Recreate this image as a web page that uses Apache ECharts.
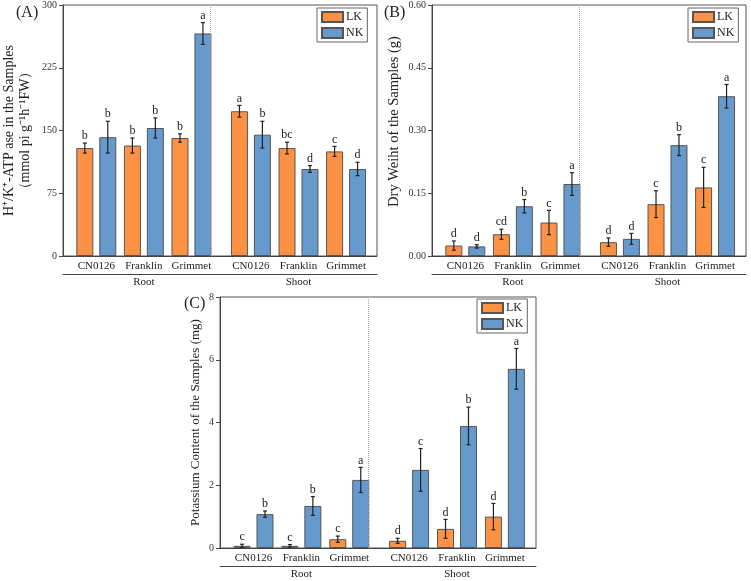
<!DOCTYPE html>
<html>
<head>
<meta charset="utf-8">
<script src="https://cdn.jsdelivr.net/npm/echarts@6/dist/echarts.min.js"></script>
<style>
  html, body { margin: 0; padding: 0; background: #fff; }
  #chart { width: 751px; height: 581px; }
</style>
</head>
<body>
<div id="chart"></div>
<script>
// ---------- data ----------
var cultivars = ['CN0126', 'Franklin', 'Grimmet', 'CN0126', 'Franklin', 'Grimmet'];
var tissues = ['Root', 'Shoot'];
var treatments = ['LK', 'NK'];

// (A) H+/K+-ATPase
var atpLK = [129, 132, 141, 173, 129, 125];
var atpLKErr = [6, 9, 5, 7, 7, 6];
var atpLKSig = ['b', 'b', 'b', 'a', 'bc', 'c'];
var atpNK = [142, 153, 266, 145, 104, 104];
var atpNKErr = [19, 12, 13, 16, 4, 8];
var atpNKSig = ['b', 'b', 'a', 'b', 'd', 'd'];
var atpTicks = [0, 75, 150, 225, 300];

// (B) dry weight
var dwLK = [0.025, 0.052, 0.080, 0.033, 0.124, 0.164];
var dwLKErr = [0.011, 0.012, 0.029, 0.010, 0.032, 0.048];
var dwLKSig = ['d', 'cd', 'c', 'd', 'c', 'c'];
var dwNK = [0.023, 0.119, 0.172, 0.041, 0.265, 0.382];
var dwNKErr = [0.004, 0.016, 0.027, 0.013, 0.025, 0.028];
var dwNKSig = ['d', 'b', 'a', 'd', 'b', 'a'];
var dwTicks = [0, 0.15, 0.30, 0.45, 0.60];

// (C) potassium content
var kLK = [0.07, 0.07, 0.28, 0.23, 0.61, 1.00];
var kLKErr = [0.05, 0.04, 0.10, 0.08, 0.30, 0.42];
var kLKSig = ['c', 'c', 'c', 'd', 'd', 'd'];
var kNK = [1.08, 1.34, 2.17, 2.49, 3.89, 5.71];
var kNKErr = [0.10, 0.30, 0.40, 0.68, 0.60, 0.65];
var kNKSig = ['b', 'b', 'a', 'c', 'b', 'a'];
var kTicks = [0, 2, 4, 6, 8];

// ---------- layout ----------
var FONT = 'Liberation Serif';
var ORANGE = '#FD9244';
var BLUE = '#6699CC';
var BAR_W = 17;
var BAR_GAP = 0.35;
var OFF = BAR_W * (1 + BAR_GAP) / 2;

// x position of each cultivar group, with a wider gap between Root and Shoot
function pos(i) { return i + 1 + (i > 2 ? 0.25 : 0); }
var positions = cultivars.map(function (c, i) { return pos(i); });
var tissuePos = [2, 5.25];
var divider = 3.625;

var panels = [
  {
    tag: '(A)', grid: { left: 63, top: 5, width: 314, height: 251 },
    ticks: atpTicks, fmt: function (v) { return v; },
    name: 'H\u207A/K\u207A-ATP ase in the Samples\n\uFF08mmol pi g\u207B\u00B9h\u207B\u00B9FW\uFF09',
    nameGap: 30, nameSize: 14, namePad: [0, 0, 0, 0],
    LK: atpLK, LKErr: atpLKErr, LKSig: atpLKSig, NK: atpNK, NKErr: atpNKErr, NKSig: atpNKSig,
    tagPos: { left: 16, top: 5 }, legendPos: { left: 317, top: 8 }
  },
  {
    tag: '(B)', grid: { left: 432, top: 5, width: 314, height: 251 },
    ticks: dwTicks, fmt: function (v) { return v.toFixed(2); },
    name: 'Dry Weiht of the Samples (g)',
    nameGap: 30, nameSize: 14.5, namePad: [0, 0, 0, 18],
    LK: dwLK, LKErr: dwLKErr, LKSig: dwLKSig, NK: dwNK, NKErr: dwNKErr, NKSig: dwNKSig,
    tagPos: { left: 384, top: 5 }, legendPos: { left: 688, top: 8 }
  },
  {
    tag: '(C)', grid: { left: 220, top: 297, width: 316, height: 251 },
    ticks: kTicks, fmt: function (v) { return v; },
    name: 'Potassium Content of the Samples (mg)',
    nameGap: 16, nameSize: 13, namePad: [0, 0, 0, 0],
    LK: kLK, LKErr: kLKErr, LKSig: kLKSig, NK: kNK, NKErr: kNKErr, NKSig: kNKSig,
    tagPos: { left: 184, top: 296 }, legendPos: { left: 477, top: 299 }
  }
];

function errRender(offset, sig) {
  return function (params, api) {
    var x = api.value(0), v = api.value(1), e = api.value(2);
    var top = api.coord([x, v + e]);
    var bot = api.coord([x, v - e]);
    var cx = top[0] + offset;
    var ls = { stroke: '#222', lineWidth: 1.2 };
    return {
      type: 'group',
      children: [
        { type: 'line', shape: { x1: cx, y1: top[1], x2: cx, y2: bot[1] }, style: ls },
        { type: 'line', shape: { x1: cx - 2, y1: top[1], x2: cx + 2, y2: top[1] }, style: ls },
        { type: 'line', shape: { x1: cx - 2, y1: bot[1], x2: cx + 2, y2: bot[1] }, style: ls },
        { type: 'text', style: {
            text: sig[params.dataIndex], x: cx, y: top[1] - 1,
            align: 'center', verticalAlign: 'bottom',
            fontFamily: FONT, fontSize: 12, fill: '#222'
        } }
      ]
    };
  };
}

var option = {
  animation: false,
  backgroundColor: '#fff',
  textStyle: { fontFamily: FONT },
  title: [], grid: [], xAxis: [], yAxis: [], legend: [], series: []
};

panels.forEach(function (p, k) {
  option.title.push({
    text: p.tag, left: p.tagPos.left, top: p.tagPos.top, padding: 0,
    textStyle: { fontFamily: FONT, fontSize: 16, fontWeight: 'normal', color: '#222' }
  });
  option.grid.push({
    left: p.grid.left, top: p.grid.top, width: p.grid.width, height: p.grid.height,
    show: true, borderColor: '#555', borderWidth: 1, backgroundColor: 'transparent'
  });
  // cultivar axis
  option.xAxis.push({
    type: 'value', gridIndex: k, min: 0.3, max: 6.9,
    splitLine: { show: false },
    axisLine: { show: true, lineStyle: { color: '#444', width: 1 } },
    axisTick: { show: false },
    axisLabel: {
      customValues: positions, margin: 5,
      fontFamily: FONT, fontSize: 11, color: '#222',
      formatter: function (v) { return cultivars[positions.indexOf(v)]; }
    }
  });
  // tissue axis (underline + Root / Shoot)
  option.xAxis.push({
    type: 'value', gridIndex: k, min: 0.3, max: 6.9, position: 'bottom', offset: 18,
    splitLine: { show: false },
    axisLine: { show: true, onZero: false, lineStyle: { color: '#444', width: 1 } },
    axisTick: { show: false },
    axisLabel: {
      customValues: tissuePos, margin: 3,
      fontFamily: FONT, fontSize: 11, color: '#222',
      formatter: function (v) { return tissues[tissuePos.indexOf(v)]; }
    }
  });
  var t = p.ticks;
  option.yAxis.push({
    type: 'value', gridIndex: k, min: t[0], max: t[t.length - 1], interval: t[1] - t[0],
    name: p.name, nameLocation: 'middle', nameRotate: 90, nameGap: p.nameGap,
    nameTextStyle: { fontFamily: FONT, fontSize: p.nameSize, color: '#222', lineHeight: 16, padding: p.namePad },
    splitLine: { show: false },
    axisLine: { show: true, lineStyle: { color: '#444', width: 1 } },
    axisTick: { show: true, length: 4, lineStyle: { color: '#444' } },
    axisLabel: { fontFamily: FONT, fontSize: 10, color: '#333', margin: 6, formatter: p.fmt }
  });
  option.legend.push({
    data: treatments, orient: 'vertical',
    left: p.legendPos.left, top: p.legendPos.top,
    itemWidth: 21, itemHeight: 10, itemGap: 4, padding: [3, 4, 3, 4],
    borderColor: '#666', borderWidth: 1, borderRadius: 0,
    textStyle: { fontFamily: FONT, fontSize: 12, color: '#222', padding: [0, 0, 0, -2] },
    icon: 'rect'
  });
  treatments.forEach(function (tr, j) {
    var vals = p[tr];
    var s = {
      name: tr, type: 'bar', xAxisIndex: 2 * k, yAxisIndex: k,
      barWidth: BAR_W, barGap: (BAR_GAP * 100) + '%',
      itemStyle: { color: j === 0 ? ORANGE : BLUE, borderColor: '#555', borderWidth: 1 },
      data: vals.map(function (v, i) { return [positions[i], v]; })
    };
    if (j === 0) {
      s.markLine = {
        silent: true, symbol: 'none', label: { show: false },
        lineStyle: { color: '#aaa', type: 'dotted', width: 1 },
        data: [{ xAxis: divider }]
      };
    }
    option.series.push(s);
  });
  treatments.forEach(function (tr, j) {
    var vals = p[tr], errs = p[tr + 'Err'];
    option.series.push({
      type: 'custom', xAxisIndex: 2 * k, yAxisIndex: k, z: 5,
      renderItem: errRender(j === 0 ? -OFF : OFF, p[tr + 'Sig']),
      encode: { x: 0, y: 1 },
      data: vals.map(function (v, i) { return [positions[i], v, errs[i]]; })
    });
  });
});

var chart = echarts.init(document.getElementById('chart'));
chart.setOption(option);
</script>
</body>
</html>
